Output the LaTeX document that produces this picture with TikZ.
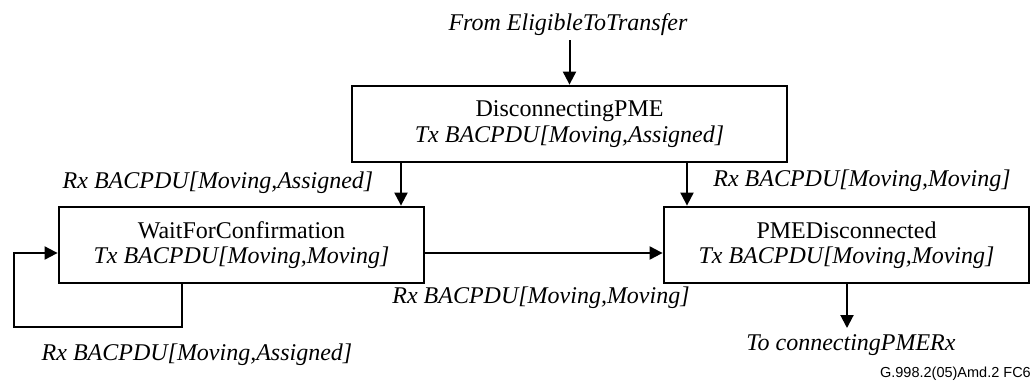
\documentclass[tikz,border=0pt]{standalone}
\usepackage{fontspec}
\setmainfont{Liberation Serif}
\newfontfamily\figsans{Liberation Sans}
\usetikzlibrary{arrows.meta}
\begin{document}
\begin{tikzpicture}[x=1pt,y=-1pt,
  state/.style={draw, line width=2.8pt, minimum height=76pt, align=center,
    inner sep=0pt, font=\fontsize{24}{25.5}\selectfont},
  conn/.style={line width=2pt, -{Triangle[length=13pt,width=13pt]}},
  lbl/.style={inner sep=0pt, font=\fontsize{24}{26}\selectfont\itshape}]
\useasboundingbox (0,0) rectangle (1033,389);

\node[state, minimum width=435pt] (top) at (569.5,124) {DisconnectingPME\\\textit{Tx BACPDU[Moving,Assigned]}};
\node[state, minimum width=365pt] (left) at (241.5,245) {WaitForConfirmation\\\textit{Tx BACPDU[Moving,Moving]}};
\node[state, minimum width=365pt] (right) at (846.5,245) {PMEDisconnected\\\textit{Tx BACPDU[Moving,Moving]}};

\node[lbl] (from) at (568,25) {From EligibleToTransfer};
\node[lbl] (to) at (851,345) {To connectingPMERx};
\node[lbl] (l1) at (218,183) {Rx BACPDU[Moving,Assigned]};
\node[lbl] (l2) at (862,181) {Rx BACPDU[Moving,Moving]};
\node[lbl] (l3) at (541,298) {Rx BACPDU[Moving,Moving]};
\node[lbl] (l4) at (197,355) {Rx BACPDU[Moving,Assigned]};
\node[inner sep=0pt, anchor=east, font=\figsans\fontsize{14.5}{16}\selectfont] (fig) at (1031,374) {G.998.2(05)Amd.2 FC6};

\coordinate (a1) at (401,0);
\coordinate (a2) at (687,0);
\coordinate (h) at (0,253);
\coordinate (lb) at (182,327);
\coordinate (ll) at (14,327);
\coordinate (rd) at (847,328);

\draw[conn] (from.south -| top.north) ++(0,4) -- (top.north);
\draw[conn] (top.south -| a1) -- (left.north -| a1);
\draw[conn] (top.south -| a2) -- (right.north -| a2);
\draw[conn] (left.east |- h) -- (right.west |- h);
\draw[conn] (left.south -| lb) -- (lb) -- (ll) -- (ll |- h) -- (left.west |- h);
\draw[conn] (right.south -| rd) -- (rd);
\end{tikzpicture}
\end{document}
